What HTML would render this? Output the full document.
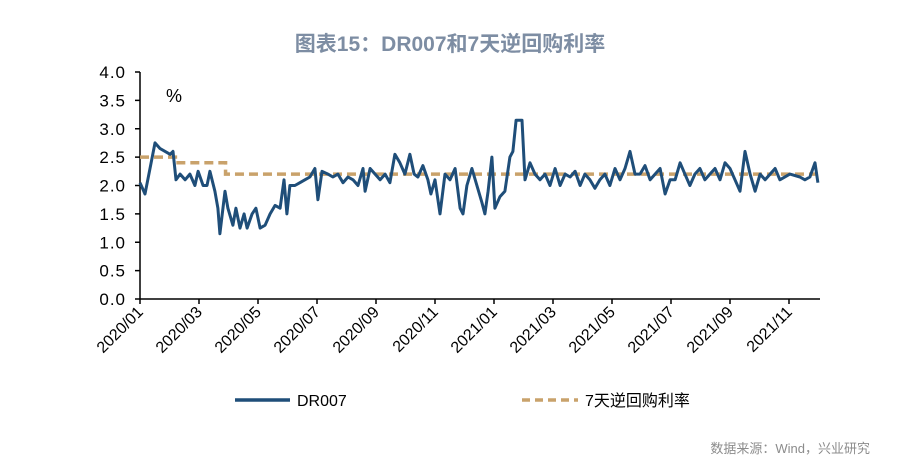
<!DOCTYPE html>
<html><head><meta charset="utf-8"><style>
body{margin:0;background:#fff;}
svg text{font-family:"Liberation Sans","Noto Sans CJK SC",sans-serif;}
</style></head><body>
<svg width="900" height="469" viewBox="0 0 900 469">
<text x="450" y="51" text-anchor="middle" font-size="21" font-weight="bold" fill="#7d8da3">图表15：DR007和7天逆回购利率</text>
<g id="yaxis"></g>
<g id="xaxis"></g>
<text x="166" y="102" font-size="18" fill="#000">%</text>
<g id="series"></g>
<g>
<line x1="235" y1="400" x2="290" y2="400" stroke="#1f4e79" stroke-width="3.5"/>
<text x="297" y="406" font-size="16" fill="#000">DR007</text>
<line x1="522" y1="400" x2="578" y2="400" stroke="#c9a26b" stroke-width="3.5" stroke-dasharray="8,5"/>
<text x="585" y="406" font-size="16" fill="#000">7天逆回购利率</text>
</g>
<text x="870" y="453" text-anchor="end" font-size="13" fill="#8c8c8c">数据来源：Wind，兴业研究</text>
</svg>
<script>
const yTicks=["0.0","0.5","1.0","1.5","2.0","2.5","3.0","3.5","4.0"];
const xTickLabels=["2020/01","2020/03","2020/05","2020/07","2020/09","2020/11","2021/01","2021/03","2021/05","2021/07","2021/09","2021/11"];
const drMonths=[0,.17,.34,.51,.68,.85,1.02,1.12,1.22,1.36,1.53,1.69,1.86,1.97,2.14,2.27,2.37,2.54,2.64,2.71,2.88,2.98,3.15,3.25,3.39,3.53,3.63,3.80,3.93,4.07,4.24,4.41,4.58,4.75,4.88,4.98,5.08,5.25,5.42,5.59,5.76,5.93,6.03,6.17,6.37,6.54,6.71,6.88,7.05,7.22,7.39,7.56,7.63,7.80,7.97,8.14,8.31,8.47,8.64,8.81,8.98,9.15,9.29,9.42,9.59,9.76,9.86,10.0,10.17,10.34,10.51,10.68,10.85,10.95,11.08,11.25,11.42,11.59,11.69,11.80,11.93,12.03,12.20,12.37,12.54,12.64,12.75,12.95,13.05,13.22,13.39,13.56,13.73,13.90,14.07,14.24,14.41,14.58,14.75,14.92,15.08,15.25,15.42,15.59,15.76,15.93,16.10,16.27,16.44,16.61,16.78,16.95,17.12,17.29,17.46,17.63,17.80,17.97,18.14,18.31,18.47,18.64,18.81,18.98,19.15,19.32,19.49,19.66,19.83,20.0,20.17,20.34,20.51,20.68,20.85,21.02,21.19,21.36,21.53,21.69,22.03,22.37,22.54,22.71,22.88,22.98];
const dr007=[2.05,1.85,2.3,2.75,2.65,2.6,2.55,2.6,2.1,2.2,2.1,2.2,2.0,2.25,2.0,2.0,2.25,1.9,1.6,1.15,1.9,1.6,1.3,1.6,1.25,1.5,1.25,1.5,1.6,1.25,1.3,1.5,1.65,1.6,2.1,1.5,2.0,2.0,2.05,2.1,2.15,2.3,1.75,2.25,2.2,2.15,2.2,2.05,2.15,2.1,2.0,2.3,1.9,2.3,2.2,2.1,2.2,2.05,2.55,2.4,2.2,2.55,2.2,2.15,2.35,2.1,1.85,2.1,1.5,2.2,2.1,2.3,1.6,1.5,2.0,2.3,2.0,1.7,1.5,1.9,2.5,1.6,1.8,1.9,2.5,2.6,3.15,3.15,2.1,2.4,2.2,2.1,2.2,2.0,2.3,2.0,2.2,2.15,2.25,2.0,2.2,2.1,1.95,2.1,2.2,2.0,2.3,2.1,2.3,2.6,2.2,2.2,2.35,2.1,2.2,2.3,1.85,2.1,2.1,2.4,2.2,2.0,2.2,2.3,2.1,2.2,2.3,2.1,2.4,2.3,2.1,1.9,2.6,2.2,1.9,2.2,2.1,2.2,2.3,2.1,2.2,2.15,2.1,2.15,2.4,2.05];
const repoMonths=[0,1.2,2.9,23.05];
const repoValues=[2.5,2.4,2.2,2.2];
const NS="http://www.w3.org/2000/svg";
const x=m=>140+m*29.5;
const y=v=>299-v*56.75;
function mk(t,a,p){const e=document.createElementNS(NS,t);for(const k in a)e.setAttribute(k,a[k]);p.appendChild(e);return e;}
const ya=document.getElementById('yaxis'),xa=document.getElementById('xaxis'),se=document.getElementById('series');
const axl=mk('line',{x1:140,y1:y(4),x2:140,y2:y(0),stroke:'#000','stroke-width':1.5},ya);


yTicks.forEach(t=>{const v=parseFloat(t);
 const tk=mk('line',{x1:135,y1:y(v),x2:140,y2:y(v),stroke:'#000','stroke-width':1.5},ya);
 
 
 const tx=mk('text',{x:126,y:y(v)+6,'text-anchor':'end','font-size':17,fill:'#000','letter-spacing':'1'},ya);tx.textContent=t;
 
 });
const bx=mk('line',{x1:140,y1:y(0),x2:820,y2:y(0),stroke:'#000','stroke-width':1.5},xa);


xTickLabels.forEach((t,i)=>{const px=x(i*2);
 const tk=mk('line',{x1:px,y1:y(0),x2:px,y2:y(0)+5,stroke:'#000','stroke-width':1.5},xa);
 
 
 const tx=mk('text',{x:px+4,y:y(0)+14,'text-anchor':'end','font-size':16,fill:'#000',transform:`rotate(-45 ${px+4} ${y(0)+14})`},xa);tx.textContent=t;
 
 });
let rp='';repoValues.forEach((v,i)=>{if(i<repoValues.length-1){rp+=(i?'L':'M')+x(repoMonths[i])+','+y(v)+'L'+x(repoMonths[i+1])+','+y(v);}});
const rl=mk('path',{d:rp,fill:'none',stroke:'#c9a26b','stroke-width':3.5,'stroke-dasharray':'9,5'},se);


const d=dr007.map((v,i)=>(i?'L':'M')+x(drMonths[i]).toFixed(1)+','+y(v).toFixed(1)).join('');
const dl=mk('path',{d:d,fill:'none',stroke:'#1f4e79','stroke-width':3,'stroke-linejoin':'round'},se);


</script>
</body></html>
